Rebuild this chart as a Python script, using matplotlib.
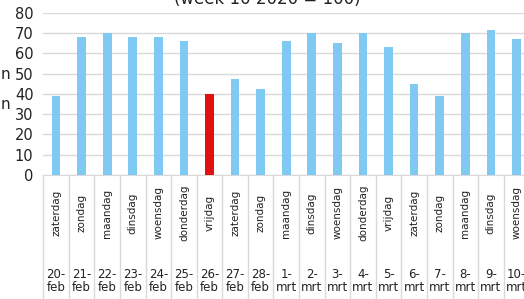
import matplotlib
matplotlib.use('Agg')
import matplotlib.pyplot as plt
import matplotlib.transforms as mtransforms

days = ['zaterdag', 'zondag', 'maandag', 'dinsdag', 'woensdag', 'donderdag',
        'vrijdag', 'zaterdag', 'zondag', 'maandag', 'dinsdag', 'woensdag',
        'donderdag', 'vrijdag', 'zaterdag', 'zondag', 'maandag', 'dinsdag',
        'woensdag']
dates = ['20-\nfeb', '21-\nfeb', '22-\nfeb', '23-\nfeb', '24-\nfeb', '25-\nfeb',
         '26-\nfeb', '27-\nfeb', '28-\nfeb', '1-\nmrt', '2-\nmrt', '3-\nmrt',
         '4-\nmrt', '5-\nmrt', '6-\nmrt', '7-\nmrt', '8-\nmrt', '9-\nmrt',
         '10-\nmrt']
values = [39, 68, 70, 68, 68, 66, 40, 47.5, 42.5, 66, 70, 65, 70, 63, 45, 39,
          70, 71.5, 67]
highlight = 6  # 26-feb in red

blue = '#7fc9f2'
red = '#e31010'
grid_col = '#d9d9d9'
txt_col = '#222222'

fig = plt.figure(figsize=(5.24, 2.99), dpi=100)
ax = fig.add_axes([0.0826, 0.4147, 1.010 - 0.0826, 0.5428])

colors = [red if i == highlight else blue for i in range(len(values))]
ax.bar(range(len(values)), values, width=0.34, color=colors, zorder=3)

ax.set_xlim(-0.5, len(values) - 0.5)
ax.set_ylim(0, 80)
ax.set_yticks(range(0, 81, 10))
ax.yaxis.grid(True, color=grid_col, linewidth=1)
ax.set_axisbelow(True)
for s in ['top', 'right', 'left']:
    ax.spines[s].set_visible(False)
ax.spines['bottom'].set_color(grid_col)
ax.tick_params(axis='y', length=0, pad=7, labelsize=10.5, labelcolor=txt_col)
ax.tick_params(axis='x', length=0, labelbottom=False)

# multi-level category axis
trans = mtransforms.blended_transform_factory(ax.transData, ax.transAxes)
for k in range(len(values) + 1):
    ax.plot([k - 0.5, k - 0.5], [0, -0.77], transform=trans, color=grid_col,
            linewidth=1, clip_on=False)
for i, (d, dt) in enumerate(zip(days, dates)):
    ax.text(i, -0.234, d, transform=trans, rotation=90, ha='center',
            va='center', fontsize=7.5, color=txt_col)
    ax.text(i, -0.653, dt, transform=trans, ha='center', va='center',
            fontsize=8.5, linespacing=1.05, color=txt_col)

fig.text(0.51, 0.985, '(week 10 2020 = 100)', ha='center', va='baseline',
         fontsize=12, color=txt_col)

# cut-off left axis label
fig.text(0.019, 0.752, 'n', ha='right', va='center', fontsize=11, color=txt_col)
fig.text(0.019, 0.652, 'n', ha='right', va='center', fontsize=11, color=txt_col)

fig.savefig('out.png', dpi=100)
